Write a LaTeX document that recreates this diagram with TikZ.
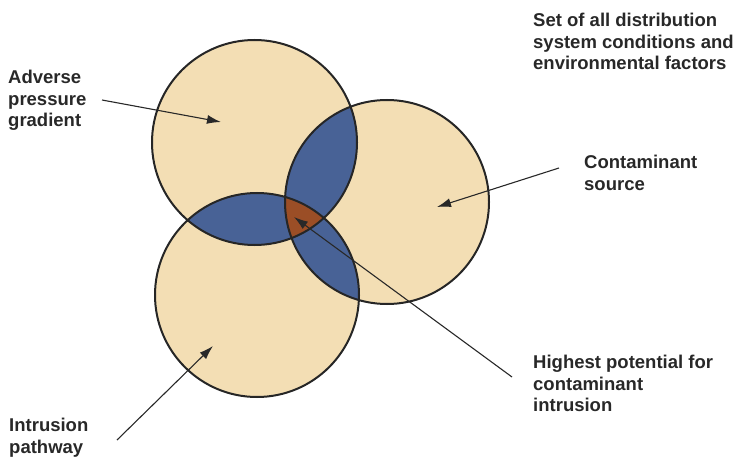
\documentclass[tikz,border=0pt]{standalone}
\usepackage{fontspec}
\setmainfont{Liberation Sans}
\usetikzlibrary{arrows.meta}
\definecolor{beige}{RGB}{243,222,180}
\definecolor{vblue}{RGB}{72,98,150}
\definecolor{vbrown}{RGB}{155,78,38}
\definecolor{txt}{RGB}{40,40,40}
\def\circA{(254.5,142.5) circle[radius=102.5]}
\def\circB{(387,202) circle[radius=102]}
\def\circC{(257,295) circle[radius=102]}
\begin{document}
\begin{tikzpicture}[x=1pt,y=-1pt,
  lab/.style={font=\fontsize{18.5}{21.5}\selectfont\bfseries, align=left, inner sep=0pt, text=txt, anchor=north west},
  ptr/.style={draw=txt, line width=1.1pt, -{Latex[length=14pt,width=9pt]}},
  ring/.style={draw=black!85, line width=2pt}]
\useasboundingbox (0,0) rectangle (738,457);
% fills
\fill[beige] \circA;
\fill[beige] \circB;
\fill[beige] \circC;
\begin{scope}
  \clip \circA;
  \fill[vblue] \circB;
  \fill[vblue] \circC;
\end{scope}
\begin{scope}
  \clip \circB;
  \fill[vblue] \circC;
\end{scope}
\begin{scope}
  \clip \circA;
  \clip \circB;
  \fill[vbrown] \circC;
\end{scope}
\draw[ring] \circA;
\draw[ring] \circB;
\draw[ring] \circC;
% labels
\node[lab] (set) at (533,13) {Set of all distribution\\system conditions and\\environmental factors};
\node[lab] (adv) at (8,70) {Adverse\\pressure\\gradient};
\node[lab] (con) at (584,155) {Contaminant\\source};
\node[lab] (hig) at (533,355) {Highest potential for\\contaminant\\intrusion};
\node[lab] (int) at (9,418) {Intrusion\\pathway};
% arrow coordinates
\coordinate (advS) at (102,100);
\coordinate (advT) at (221,122);
\coordinate (conS) at (559,168);
\coordinate (conT) at (437,207);
\coordinate (intS) at (117,440);
\coordinate (intT) at (213,346);
\coordinate (higS) at (512,377);
\coordinate (higT) at (294,217);
\draw[ptr] (advS) -- (advT);
\draw[ptr] (conS) -- (conT);
\draw[ptr] (intS) -- (intT);
\draw[ptr] (higS) -- (higT);
\end{tikzpicture}
\end{document}
